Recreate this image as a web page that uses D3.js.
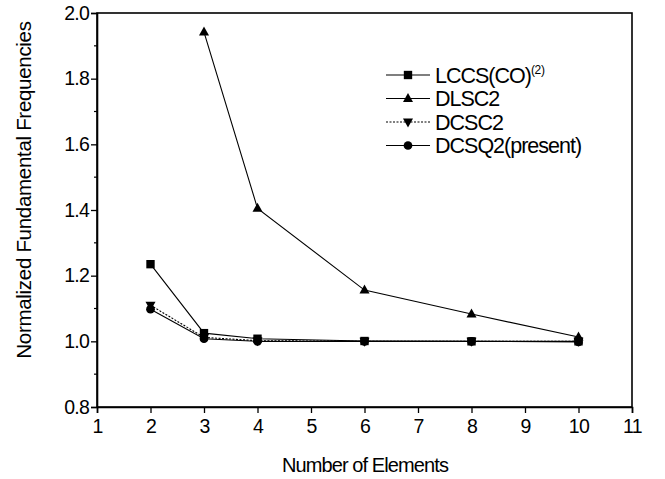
<!DOCTYPE html>
<html lang="en">
  <head>
    <meta charset="utf-8">
    <title>Normalized Fundamental Frequencies</title>
    <script src="https://d3js.org/d3.v7.min.js"></script>
    <style>
      body { margin: 0; background: #fff; }
      text { font-family: "Liberation Sans", Arial, sans-serif; fill: #000; }
    </style>
  </head>
  <body>
    <div id="main"></div>
    <script>
      var elements = [2, 3, 4, 6, 8, 10];
      var lccs = [1.235, 1.025, 1.008, 1.001, 1.0, 1.0];
      var dlscX = [3, 4, 6, 8, 10];
      var dlsc = [1.942, 1.405, 1.156, 1.083, 1.013];
      var dcsc = [1.11, 1.012, 1.002, 1.0, 1.0, 1.0];
      var dcsq = [1.098, 1.008, 1.0, 1.0, 1.0, 0.998];
      var xTicks = [1, 2, 3, 4, 5, 6, 7, 8, 9, 10, 11];
      var yTicks = [0.8, 1.0, 1.2, 1.4, 1.6, 1.8, 2.0];
      var yMinor = [0.9, 1.1, 1.3, 1.5, 1.7, 1.9];

      var width = 665, height = 479;
      var padL = 97, padR = 632, padT = 13, padB = 407;

      var svg = d3.select("#main").append("svg")
        .attr("width", width)
        .attr("height", height);

      var x = d3.scaleLinear().domain([1, 11]).range([padL, padR]);
      var y = d3.scaleLinear().domain([0.8, 2.0]).range([padB, padT]);

      // frame
      svg.append("rect")
        .attr("x", padL).attr("y", padT)
        .attr("width", padR - padL).attr("height", padB - padT)
        .attr("fill", "none").attr("stroke", "#000").attr("stroke-width", 1.6);

      var xAxis = svg.append("g")
        .attr("transform", "translate(0," + padB + ")")
        .call(d3.axisBottom(x).tickValues(xTicks).tickSize(6).tickFormat(d3.format("d")));
      xAxis.select(".domain").attr("stroke-width", 1.6);
      xAxis.selectAll(".tick line").attr("stroke-width", 1.3);
      xAxis.selectAll("text").attr("font-size", 19.5).attr("letter-spacing", -0.6).attr("dy", "0.85em");

      var yAxis = svg.append("g")
        .attr("transform", "translate(" + padL + ",0)")
        .call(d3.axisLeft(y).tickValues(yTicks).tickSize(6).tickFormat(d3.format(".1f")));
      yAxis.select(".domain").attr("stroke-width", 1.6);
      yAxis.selectAll(".tick line").attr("stroke-width", 1.3);
      yAxis.selectAll("text").attr("font-size", 19.5).attr("letter-spacing", -0.8).attr("x", -8);

      svg.append("g").selectAll("line").data(yMinor).enter().append("line")
        .attr("x1", padL - 3).attr("x2", padL)
        .attr("y1", function(d) { return y(d); })
        .attr("y2", function(d) { return y(d); })
        .attr("stroke", "#000").attr("stroke-width", 1.2);

      // axis titles
      svg.append("text")
        .attr("x", 365).attr("y", 472)
        .attr("text-anchor", "middle")
        .attr("font-size", 20).attr("letter-spacing", -0.9)
        .text("Number of Elements");
      svg.append("text")
        .attr("transform", "translate(31,190) rotate(-90)")
        .attr("text-anchor", "middle")
        .attr("font-size", 20.5).attr("letter-spacing", -0.3)
        .text("Normalized Fundamental Frequencies");

      var series = [
        { name: "LCCS(CO)", sup: "(2)", xs: elements, ys: lccs, marker: "square", dash: null },
        { name: "DLSC2", xs: dlscX, ys: dlsc, marker: "up", dash: null },
        { name: "DCSC2", xs: elements, ys: dcsc, marker: "down", dash: "2,1.5" },
        { name: "DCSQ2(present)", xs: elements, ys: dcsq, marker: "circle", dash: null }
      ];

      function markerPath(type) {
        if (type === "square") return d3.symbol().type(d3.symbolSquare).size(70)();
        if (type === "circle") return d3.symbol().type(d3.symbolCircle).size(60)();
        if (type === "up") return "M0,-5.5L5,3.5L-5,3.5Z";
        return "M0,5.5L5,-3.5L-5,-3.5Z";
      }

      var line = d3.line().x(function(d) { return x(d[0]); }).y(function(d) { return y(d[1]); });

      series.forEach(function(s) {
        var pts = s.xs.map(function(v, i) { return [v, s.ys[i]]; });
        svg.append("path")
          .attr("d", line(pts))
          .attr("fill", "none")
          .attr("stroke", "#000")
          .attr("stroke-width", 1.1)
          .attr("stroke-dasharray", s.dash);
        svg.append("g").selectAll("path").data(pts).enter().append("path")
          .attr("transform", function(d) { return "translate(" + x(d[0]) + "," + y(d[1]) + ")"; })
          .attr("d", markerPath(s.marker))
          .attr("fill", "#000");
      });

      // legend
      var legend = svg.append("g").selectAll("g").data(series).enter().append("g")
        .attr("transform", function(d, i) { return "translate(386," + (75 + i * 23.5) + ")"; });
      legend.append("line")
        .attr("x1", 0).attr("x2", 44)
        .attr("stroke", "#000").attr("stroke-width", 1.1)
        .attr("stroke-dasharray", function(d) { return d.dash; });
      legend.append("path")
        .attr("transform", "translate(22,0)")
        .attr("d", function(d) { return markerPath(d.marker); })
        .attr("fill", "#000");
      var lt = legend.append("text")
        .attr("x", 49).attr("y", 7.5)
        .attr("font-size", 21.5).attr("letter-spacing", -1);
      lt.append("tspan").text(function(d) { return d.name; });
      lt.filter(function(d) { return d.sup; }).append("tspan")
        .attr("dy", -9).attr("font-size", 12).attr("letter-spacing", -0.3)
        .text(function(d) { return d.sup; });
    </script>
  </body>
</html>
